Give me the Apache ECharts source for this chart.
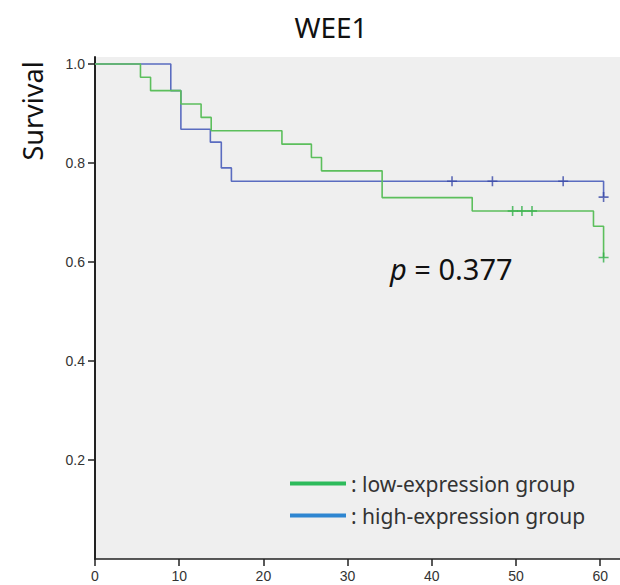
<!DOCTYPE html>
<html>
<head>
<meta charset="utf-8">
<script src="https://cdn.jsdelivr.net/npm/echarts@6/dist/echarts.min.js"></script>
<style>html,body{margin:0;padding:0;background:#fff}#c{width:620px;height:585px}</style>
</head>
<body>
<div id="c"></div>
<script>
// Kaplan-Meier steps (time in months, survival after the drop)
const lowTimes = [0, 5.4, 6.6, 10.2, 12.6, 13.8, 22.2, 25.7, 26.9, 34.1, 44.8, 59.2, 60.4];
const lowSurv  = [1.0, 0.973, 0.946, 0.919, 0.892, 0.865, 0.838, 0.811, 0.784, 0.730, 0.703, 0.672, 0.609];
const highTimes = [0, 9.0, 10.2, 13.7, 15.0, 16.2, 60.4];
const highSurv  = [1.0, 0.946, 0.868, 0.842, 0.790, 0.763, 0.731];
// censored observations
const lowCensorTimes = [49.6, 50.7, 51.9, 60.4];
const lowCensorSurv  = [0.703, 0.703, 0.703, 0.609];
const highCensorTimes = [42.4, 47.2, 55.6, 60.4];
const highCensorSurv  = [0.763, 0.763, 0.763, 0.731];
// axes
const xTicks = [0, 10, 20, 30, 40, 50, 60];
const yTicks = [0.2, 0.4, 0.6, 0.8, 1.0];
const seriesNames = ['low-expression group', 'high-expression group'];
const pText = '0.377';

const zip = (a, b) => a.map((v, i) => [v, b[i]]);
const plus = 'path://M0,5L10,5M5,0L5,10';

const chart = echarts.init(document.getElementById('c'), null, {renderer: 'svg'});
chart.setOption({
  backgroundColor: '#ffffff',
  animation: false,
  title: {
    text: 'WEE1', left: 326, top: 8, textAlign: 'center',
    textStyle: {fontFamily: 'Noto Sans', fontSize: 28, fontWeight: 'normal', color: '#111'}
  },
  grid: {
    left: 95, right: 0, top: 57, bottom: 26,
    show: true, backgroundColor: '#efefef', borderWidth: 0,
    outerBoundsMode: 'none'
  },
  legend: {
    orient: 'vertical', left: 285, top: 468, itemGap: 11,
    itemWidth: 56, itemHeight: 4, icon: 'rect',
    data: [
      {name: seriesNames[0], itemStyle: {color: '#2dbb5b'}},
      {name: seriesNames[1], itemStyle: {color: '#2e86d1'}}
    ],
    formatter: n => ': ' + n,
    textStyle: {fontFamily: 'Noto Sans', fontSize: 21, color: '#333'},
    selectedMode: false
  },
  xAxis: {
    type: 'value', min: 0, max: 62.35,
    axisLine: {show: true, lineStyle: {color: '#222', width: 1.5}},
    axisTick: {show: true, customValues: xTicks, length: 7, lineStyle: {color: '#222', width: 1.5}},
    axisLabel: {customValues: xTicks, margin: 10, fontFamily: 'Liberation Sans', fontSize: 14, color: '#333'},
    splitLine: {show: false}
  },
  yAxis: {
    type: 'value', min: 0, max: 1.014,
    axisLine: {show: true, lineStyle: {color: '#222', width: 2}},
    axisTick: {show: true, customValues: yTicks, length: 7, lineStyle: {color: '#222', width: 1.5}},
    axisLabel: {customValues: yTicks, margin: 10, fontFamily: 'Liberation Sans', fontSize: 14, color: '#333',
      formatter: v => v.toFixed(1)},
    splitLine: {show: false}
  },
  graphic: [
    {type: 'text', x: 32, y: 111, rotation: Math.PI / 2,
     style: {text: 'Survival', font: '27px "Noto Sans"', fill: '#111', align: 'center', verticalAlign: 'middle'}},
    {type: 'text', x: 390, y: 268,
     style: {text: '{i|p} = ' + pText, verticalAlign: 'middle', align: 'left',
       rich: {i: {fontStyle: 'italic', fontSize: 29, fontFamily: 'Noto Sans', fill: '#111'}},
       font: '29px "Noto Sans"', fill: '#111'}}
  ],
  series: [
    {name: seriesNames[0], type: 'line', step: 'end', data: zip(lowTimes, lowSurv),
     showSymbol: false, lineStyle: {color: '#5cbf5c', width: 1.6}, itemStyle: {color: '#2dbb5b'}, z: 3},
    {name: seriesNames[1], type: 'line', step: 'end', data: zip(highTimes, highSurv),
     showSymbol: false, lineStyle: {color: '#5a6cc0', width: 1.6}, itemStyle: {color: '#2e86d1'}, z: 2},
    {name: 'low censored', type: 'scatter', data: zip(lowCensorTimes, lowCensorSurv),
     symbol: plus, symbolSize: 10, itemStyle: {color: 'none', borderColor: '#33b04a', borderWidth: 1.6}, z: 4},
    {name: 'high censored', type: 'scatter', data: zip(highCensorTimes, highCensorSurv),
     symbol: plus, symbolSize: 10, itemStyle: {color: 'none', borderColor: '#3a4aa8', borderWidth: 1.6}, z: 4}
  ]
});
</script>
</body>
</html>
